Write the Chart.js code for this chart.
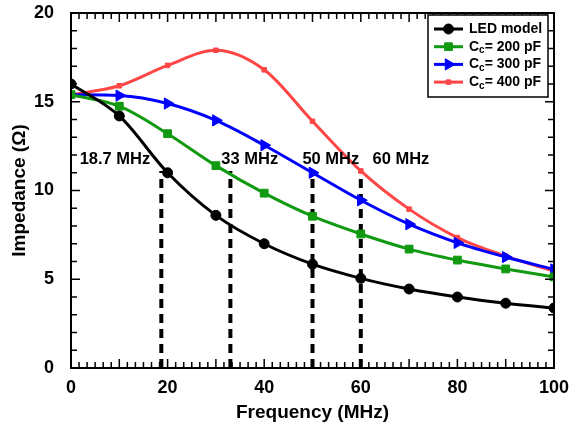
<!DOCTYPE html>
<html>
<head>
<meta charset="utf-8">
<script src="https://cdn.jsdelivr.net/npm/chart.js@4.4.0/dist/chart.umd.min.js"></script>
<style>
  html, body { margin: 0; padding: 0; background: #fff; }
  #wrap { width: 572px; height: 430px; }
</style>
</head>
<body>
<div id="wrap"><canvas id="chart"></canvas></div>
<script>
// ---------- data ----------
const freq = [0, 10, 20, 30, 40, 50, 60, 70, 80, 90, 100];
const ledModel = [16.0, 14.2, 11.0, 8.6, 7.0, 5.85, 5.05, 4.45, 4.0, 3.65, 3.38];
const cc200 = [15.4, 14.75, 13.2, 11.4, 9.85, 8.55, 7.55, 6.7, 6.08, 5.58, 5.13];
const cc300 = [15.4, 15.35, 14.9, 13.95, 12.55, 11.0, 9.45, 8.1, 7.05, 6.25, 5.55];
const cc400 = [15.4, 15.9, 17.05, 17.9, 16.8, 13.9, 11.1, 8.95, 7.35, 6.3, 5.45];
const seriesNames = ['LED model', 'C_c= 200 pF', 'C_c= 300 pF', 'C_c= 400 pF'];

const cutoffFreqs = [18.7, 33, 50, 60];
const cutoffTop = 11.1;
const cutoffLabels = ['18.7 MHz', '33 MHz', '50 MHz', '60 MHz'];
const cutoffLabelX = [9.1, 37, 53.8, 68.3];
const cutoffLabelY = 11.75;

const xTicks = [0, 20, 40, 60, 80, 100];
const yTicks = [0, 5, 10, 15, 20];

const FONT = "'Liberation Sans', Arial, sans-serif";

const pts = ys => freq.map((f, i) => ({ x: f, y: ys[i] }));

const styles = [
    { color: '#000000', pointStyle: 'circle', radius: 5, rotation: 0 },
    { color: '#119a11', pointStyle: 'rect', radius: 5.5, rotation: 0 },
    { color: '#0000ff', pointStyle: 'triangle', radius: 6.5, rotation: 90 },
    { color: '#ff4646', pointStyle: 'rect', radius: 3.2, rotation: 0 },
];

const seriesData = [ledModel, cc200, cc300, cc400];

const datasets = seriesData.map((ys, i) => ({
    label: seriesNames[i],
    data: pts(ys),
    borderColor: styles[i].color,
    backgroundColor: styles[i].color,
    borderWidth: 3,
    pointStyle: styles[i].pointStyle,
    pointRadius: styles[i].radius,
    pointRotation: styles[i].rotation,
    pointBorderWidth: 1,
    cubicInterpolationMode: 'monotone',
}));

// dashed cutoff markers
cutoffFreqs.forEach(f => {
    datasets.push({
        label: 'cutoff',
        data: [{ x: f, y: 0 }, { x: f, y: cutoffTop }],
        borderColor: '#000',
        borderWidth: 4,
        borderDash: [9, 6],
        pointRadius: 0,
        tension: 0,
    });
});

// ---------- plugins ----------
const frameTicks = {
    id: 'frameTicks',
    afterDatasetsDraw(chart) {
        const { ctx, chartArea: a, scales: { x, y } } = chart;
        ctx.save();
        ctx.strokeStyle = '#000';
        ctx.lineWidth = 1.5;
        const seg = (x1, y1, x2, y2) => {
            ctx.beginPath();
            ctx.moveTo(x1, y1);
            ctx.lineTo(x2, y2);
            ctx.stroke();
        };
        for (let i = 0; i <= 60; i++) {
            const px = x.getPixelForValue(i * 10 / 6);
            const len = i % 6 === 0 ? 9 : 6;
            seg(px, a.bottom, px, a.bottom - len);
            seg(px, a.top, px, a.top + len);
        }
        for (let v = 0; v <= 20; v++) {
            const py = y.getPixelForValue(v);
            const len = v % 5 === 0 ? 9 : 6;
            seg(a.left, py, a.left + len, py);
            seg(a.right, py, a.right - len, py);
        }
        ctx.lineWidth = 2;
        ctx.strokeRect(a.left, a.top, a.right - a.left, a.bottom - a.top);

        // cutoff labels
        ctx.fillStyle = '#000';
        ctx.font = 'bold 16.5px ' + FONT;
        ctx.textAlign = 'center';
        ctx.textBaseline = 'middle';
        cutoffLabels.forEach((t, i) => {
            ctx.fillText(t, x.getPixelForValue(cutoffLabelX[i]), y.getPixelForValue(cutoffLabelY));
        });
        ctx.restore();
    }
};

const boxLegend = {
    id: 'boxLegend',
    afterDraw(chart) {
        const { ctx, chartArea: a } = chart;
        const bx = a.right - 126, by = a.top + 2, bw = 120, bh = 82;
        ctx.save();
        ctx.fillStyle = '#fff';
        ctx.fillRect(bx, by, bw, bh);
        ctx.strokeStyle = '#000';
        ctx.lineWidth = 1.5;
        ctx.strokeRect(bx, by, bw, bh);
        seriesNames.forEach((name, i) => {
            const ry = by + 14 + i * 17.7;
            const st = styles[i];
            ctx.strokeStyle = st.color;
            ctx.fillStyle = st.color;
            ctx.lineWidth = 3;
            ctx.beginPath();
            ctx.moveTo(bx + 6, ry);
            ctx.lineTo(bx + 35, ry);
            ctx.stroke();
            ctx.lineWidth = 1;
            Chart.helpers.drawPoint(ctx, {
                pointStyle: st.pointStyle,
                rotation: st.rotation,
                radius: st.radius,
                borderWidth: 1,
            }, bx + 20.5, ry);

            ctx.fillStyle = '#000';
            ctx.textBaseline = 'middle';
            ctx.textAlign = 'left';
            let tx = bx + 41;
            const parts = name.split('_');
            ctx.font = 'bold 14px ' + FONT;
            if (parts.length === 1) {
                ctx.fillText(name, tx, ry);
            } else {
                ctx.fillText(parts[0], tx, ry);
                tx += ctx.measureText(parts[0]).width;
                const sub = parts[1].charAt(0);
                const rest = parts[1].slice(1);
                ctx.font = 'bold 10px ' + FONT;
                ctx.fillText(sub, tx, ry + 4);
                tx += ctx.measureText(sub).width;
                ctx.font = 'bold 14px ' + FONT;
                ctx.fillText(rest, tx, ry);
            }
        });
        ctx.restore();
    }
};

// ---------- chart ----------
new Chart(document.getElementById('chart'), {
    type: 'line',
    data: { datasets },
    options: {
        responsive: true,
        maintainAspectRatio: false,
        animation: false,
        layout: { padding: { top: 13, right: 18, left: 0, bottom: 0 } },
        plugins: {
            legend: { display: false },
            tooltip: { enabled: false },
        },
        scales: {
            x: {
                type: 'linear',
                min: 0,
                max: 100,
                grid: { display: false },
                border: { display: false },
                afterBuildTicks: s => { s.ticks = xTicks.map(v => ({ value: v })); },
                afterFit: s => { s.height = 62; s.paddingLeft = 0; s.paddingRight = 0; },
                ticks: {
                    color: '#000',
                    padding: 1,
                    maxRotation: 0,
                    font: { family: FONT, size: 18, weight: 'bold' },
                },
                title: {
                    display: true,
                    text: 'Frequency (MHz)',
                    color: '#000',
                    padding: { top: 0, bottom: 6 },
                    font: { family: FONT, size: 19, weight: 'bold' },
                },
            },
            y: {
                min: 0,
                max: 20,
                grid: { display: false },
                border: { display: false },
                afterBuildTicks: s => { s.ticks = yTicks.map(v => ({ value: v })); },
                afterFit: s => { s.width = 71; s.paddingTop = 0; s.paddingBottom = 0; },
                ticks: {
                    color: '#000',
                    padding: 9,
                    font: { family: FONT, size: 18, weight: 'bold' },
                },
                title: {
                    display: true,
                    text: 'Impedance (Ω)',
                    color: '#000',
                    padding: { top: 8, bottom: 0 },
                    font: { family: FONT, size: 19, weight: 'bold' },
                },
            },
        },
    },
    plugins: [frameTicks, boxLegend],
});
</script>
</body>
</html>
